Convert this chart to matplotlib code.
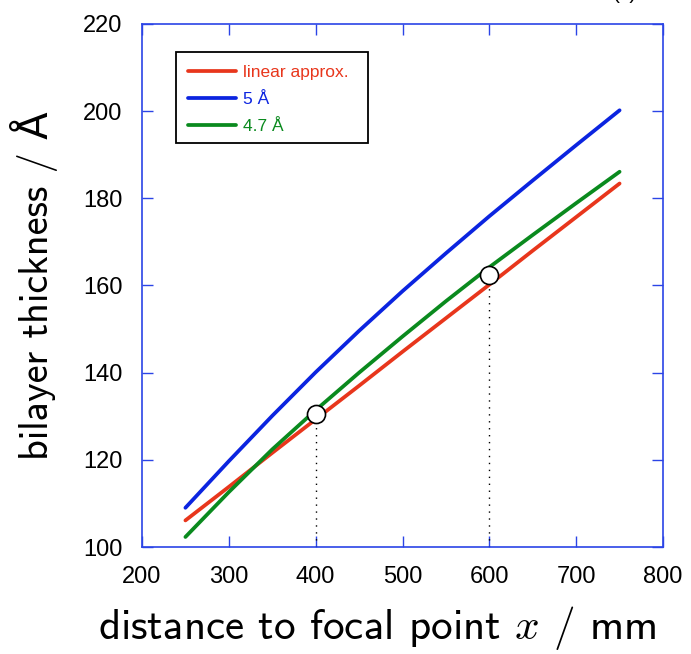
import matplotlib
matplotlib.use("Agg")
import matplotlib.pyplot as plt
from matplotlib.patches import Rectangle

x_mm = [250, 300, 350, 400, 450, 500, 550, 600, 650, 700, 750]
linear_approx = [106.1, 113.8, 121.6, 129.3, 137.0, 144.8, 152.5, 160.2, 168.0, 175.7, 183.4]
blue_5A = [109.0, 119.7, 130.1, 140.1, 149.6, 158.7, 167.4, 175.9, 184.1, 192.2, 200.2]
green_47A = [102.3, 112.6, 122.4, 131.4, 140.0, 148.3, 156.4, 164.2, 171.6, 178.9, 186.1]
marker_x = [400, 600]
marker_y = [130.6, 162.3]
series_labels = ["linear approx.", "5 Å", "4.7 Å"]
xticks = [200, 300, 400, 500, 600, 700, 800]
yticks = [100, 120, 140, 160, 180, 200, 220]

RED = "#e8361c"
BLUE = "#0b24e0"
GREEN = "#0a8a1e"
SPINE = "#2b44e6"

plt.rcParams['mathtext.fontset'] = 'cm'
fig = plt.figure(figsize=(6.91, 6.54), dpi=100)
ax = fig.add_axes([142/691, 1-547/654, (663-142)/691, (547-24)/654])

ax.plot(x_mm, linear_approx, color=RED, lw=2.7, solid_capstyle='round', label=series_labels[0], zorder=3)
ax.plot(x_mm, blue_5A, color=BLUE, lw=2.7, solid_capstyle='round', label=series_labels[1], zorder=3)
ax.plot(x_mm, green_47A, color=GREEN, lw=2.7, solid_capstyle='round', label=series_labels[2], zorder=3)

for mx, my in zip(marker_x, marker_y):
    ax.plot([mx, mx], [100, my], color='black', lw=1.0, ls=(0, (1, 4)), zorder=2)
ax.plot(marker_x, marker_y, 'o', ms=13, mfc='white', mec='black', mew=1.2, zorder=5, ls='none')

ax.set_xlim(200, 800)
ax.set_ylim(100, 220)
ax.set_xticks(xticks)
ax.set_yticks(yticks)
ax.tick_params(direction='in', top=True, right=True, length=8, width=1.0,
               color=SPINE, labelsize=17)
ax.tick_params(axis='x', pad=14)
ax.tick_params(axis='y', pad=14)
for lab in ax.get_xticklabels() + ax.get_yticklabels():
    lab.set_family(['Liberation Sans', 'DejaVu Sans'])
for s in ax.spines.values():
    s.set_color(SPINE)
    s.set_linewidth(1.2)

lf = ['cmss10', 'DejaVu Sans']
ax.set_xlabel(r"distance to focal point $x$ / mm", fontsize=31, family=lf)
ax.xaxis.set_label_coords((377 - 142) / 521, (547 - 628) / 523, transform=ax.transAxes)
ax.xaxis.label.set_verticalalignment('center')
ax.set_ylabel("bilayer thickness / Å", fontsize=29, family=lf, labelpad=18)

leg = ax.legend(loc='upper left', bbox_to_anchor=(0.063, 0.946), borderaxespad=0,
                frameon=True, fancybox=False,
                edgecolor='black', handlelength=2.8, handletextpad=0.4, borderpad=0.75,
                labelspacing=0.68, prop={'family': 'Liberation Sans', 'size': 12.5})
leg.get_frame().set_visible(False)
for t, c in zip(leg.get_texts(), [RED, BLUE, GREEN]):
    t.set_color(c)
x0 = (176 - 142) / 521
x1 = (368 - 142) / 521
y1 = (547 - 52) / 523
y0 = (547 - 143) / 523
ax.add_patch(Rectangle((x0, y0), x1 - x0, y1 - y0, transform=ax.transAxes,
                       facecolor='none', edgecolor='black', lw=1.3, zorder=6))

fig.text(625/691, 1 + 1/654, "(c)", ha='center', va='baseline', fontsize=15,
         family='Liberation Sans')

fig.savefig("out.png", dpi=100)
